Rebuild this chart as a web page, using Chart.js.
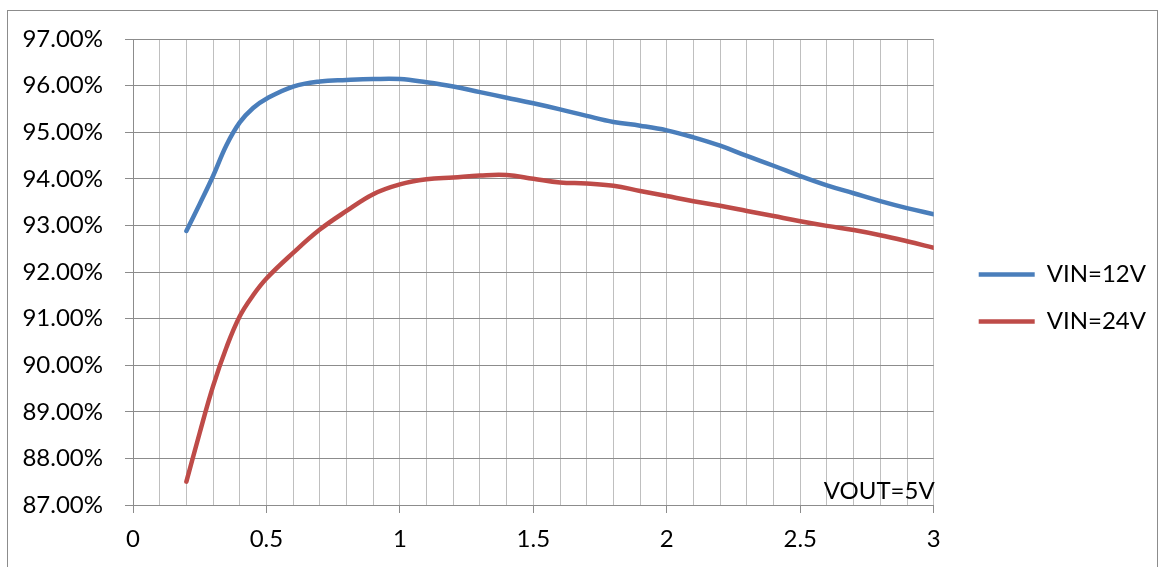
<!DOCTYPE html>
<html lang="en">
<head>
  <meta charset="UTF-8">
  <title>VOUT=5V efficiency</title>
  <script src="https://cdn.jsdelivr.net/npm/chart.js"></script>
  <style>
    html, body {
      margin: 0;
      padding: 0;
      background-color: #fff;
    }

    .wrap {
      position: relative;
      width: 1159px;
      height: 567px;
    }
  </style>
</head>
<body>
  <div class="wrap">
    <canvas id="effChart" width="1159" height="567"></canvas>
  </div>

  <script>
    // output current (A) and efficiency (%)
    var loadCurrent = [0.2, 0.25, 0.3, 0.35, 0.4, 0.45, 0.5, 0.6, 0.7, 0.8, 0.9, 1.0, 1.1, 1.2, 1.3, 1.4, 1.5,
                       1.6, 1.7, 1.8, 1.9, 2.0, 2.1, 2.2, 2.3, 2.4, 2.5, 2.6, 2.7, 2.8, 2.9, 3.0];
    var vin12 = [92.88, 93.46, 94.06, 94.72, 95.21, 95.52, 95.72, 95.98, 96.09, 96.12, 96.14, 96.14, 96.07, 95.98, 95.86, 95.74, 95.62,
                 95.49, 95.35, 95.22, 95.14, 95.04, 94.89, 94.71, 94.49, 94.28, 94.06, 93.86, 93.69, 93.52, 93.37, 93.24];
    var vin24 = [87.50, 88.55, 89.55, 90.38, 91.05, 91.50, 91.86, 92.41, 92.91, 93.31, 93.67, 93.88, 93.99, 94.03, 94.07, 94.08, 94.00,
                 93.92, 93.90, 93.85, 93.74, 93.63, 93.52, 93.42, 93.31, 93.20, 93.09, 92.99, 92.90, 92.79, 92.66, 92.52];
    var seriesNames = ['VIN=12V', 'VIN=24V'];
    var noteText = 'VOUT=5V';

    function toPoints(ys) {
      return loadCurrent.map(function(x, i) { return { x: x, y: ys[i] }; });
    }

    var fontFamily = 'Lato, "Open Sans", sans-serif';

    // outer frame and the VOUT note
    var decor = {
      id: 'decor',
      beforeDraw: function(chart) {
        var c = chart.ctx;
        c.save();
        c.strokeStyle = '#8c8c8c';
        c.lineWidth = 1;
        c.strokeRect(7.5, 10.5, 1150, 600);
        c.restore();
      },
      afterDatasetsDraw: function(chart) {
        var c = chart.ctx;
        var a = chart.chartArea;
        c.save();
        c.fillStyle = '#000';
        c.font = '24px ' + fontFamily;
        c.textAlign = 'right';
        c.textBaseline = 'alphabetic';
        c.fillText(noteText, a.right + 1, a.bottom - 6);
        c.restore();
      }
    };

    var ctx = document.getElementById('effChart').getContext('2d');
    var effChart = new Chart(ctx, {
      type: 'line',
      data: {
        datasets: [
          {
            label: seriesNames[0],
            data: toPoints(vin12),
            borderColor: '#4A7EBB',
            backgroundColor: '#4A7EBB',
            borderWidth: 4.5,
            borderCapStyle: 'round',
            pointRadius: 0,
            tension: 0.4,
            fill: false
          },
          {
            label: seriesNames[1],
            data: toPoints(vin24),
            borderColor: '#BE4B48',
            backgroundColor: '#BE4B48',
            borderWidth: 4.5,
            borderCapStyle: 'round',
            pointRadius: 0,
            tension: 0.4,
            fill: false
          }
        ]
      },
      options: {
        responsive: false,
        animation: false,
        layout: {
          padding: { left: 23, top: 39, right: 3, bottom: 10 }
        },
        scales: {
          x: {
            type: 'linear',
            min: 0,
            max: 3,
            border: { color: '#8c8c8c', width: 1 },
            grid: {
              color: '#bfbfbf',
              lineWidth: 1,
              tickLength: 8,
              tickColor: function(c) {
                var v = c.tick ? c.tick.value : 0;
                return Math.abs(v * 2 - Math.round(v * 2)) < 1e-6 ? '#8c8c8c' : 'rgba(0,0,0,0)';
              }
            },
            ticks: {
              stepSize: 0.1,
              autoSkip: false,
              maxRotation: 0,
              padding: 12,
              color: '#000',
              font: { family: fontFamily, size: 24 },
              callback: function(v) {
                if (Math.abs(v * 2 - Math.round(v * 2)) < 1e-6) {
                  return String(Math.round(v * 10) / 10);
                }
                return '';
              }
            },
            afterFit: function(scale) { scale.height = 52; }
          },
          y: {
            min: 87,
            max: 97,
            border: { color: '#8c8c8c', width: 1 },
            grid: {
              color: '#8c8c8c',
              lineWidth: 1,
              tickLength: 8,
              tickColor: '#8c8c8c'
            },
            ticks: {
              stepSize: 1,
              padding: 22,
              color: '#000',
              font: { family: fontFamily, size: 24 },
              callback: function(v) { return v.toFixed(2) + '%'; }
            },
            afterFit: function(scale) { scale.width = 110; }
          },
          // hidden spacer between the plot and the legend
          gap: {
            type: 'linear',
            position: 'right',
            display: false,
            afterFit: function(scale) { scale.width = 22; }
          }
        },
        plugins: {
          legend: {
            position: 'right',
            labels: {
              usePointStyle: true,
              pointStyle: 'line',
              pointStyleWidth: 56,
              boxHeight: 4,
              padding: 23,
              color: '#000',
              font: { family: fontFamily, size: 24 }
            }
          },
          tooltip: { enabled: false }
        }
      },
      plugins: [decor]
    });
  </script>
</body>
</html>
